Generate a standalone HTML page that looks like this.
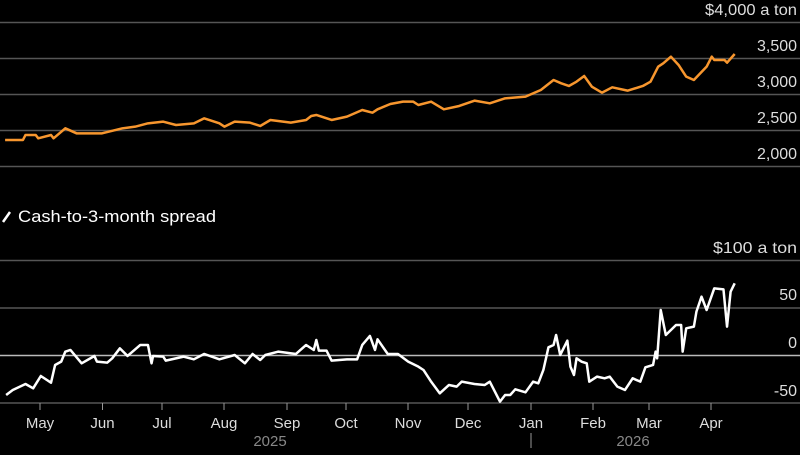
<!DOCTYPE html>
<html><head><meta charset="utf-8"><style>
html,body{margin:0;padding:0;background:#000;}
svg text{font-family:"Liberation Sans",sans-serif;}
</style></head><body>
<svg width="800" height="450" viewBox="0 0 800 450" xmlns="http://www.w3.org/2000/svg">
<rect width="800" height="450" fill="#000"/>
<g stroke="#555" stroke-width="1.5">
<line x1="0" y1="22.5" x2="800" y2="22.5"/><line x1="0" y1="58.5" x2="800" y2="58.5"/>
<line x1="0" y1="94.5" x2="800" y2="94.5"/><line x1="0" y1="130.5" x2="800" y2="130.5"/>
<line x1="0" y1="166.5" x2="800" y2="166.5"/>
<line x1="0" y1="260.5" x2="800" y2="260.5"/><line x1="0" y1="308" x2="800" y2="308"/>
<line x1="0" y1="403" x2="800" y2="403"/>
</g>
<line x1="0" y1="355.5" x2="800" y2="355.5" stroke="#bbb" stroke-width="1.5"/>
<g font-size="16" fill="#ddd" text-anchor="end">
<text x="797" y="15" textLength="92" lengthAdjust="spacingAndGlyphs">$4,000 a ton</text>
<text x="797" y="51" textLength="40" lengthAdjust="spacingAndGlyphs">3,500</text>
<text x="797" y="87" textLength="40" lengthAdjust="spacingAndGlyphs">3,000</text>
<text x="797" y="123" textLength="40" lengthAdjust="spacingAndGlyphs">2,500</text>
<text x="797" y="159" textLength="40" lengthAdjust="spacingAndGlyphs">2,000</text>
<text x="797" y="253" textLength="84" lengthAdjust="spacingAndGlyphs">$100 a ton</text>
<text x="797" y="300">50</text>
<text x="797" y="348">0</text>
<text x="797" y="396">-50</text>
</g>
<line x1="3" y1="222" x2="10" y2="212" stroke="#fff" stroke-width="2.5"/>
<text x="18" y="222" font-size="17" fill="#fff" textLength="198" lengthAdjust="spacingAndGlyphs">Cash-to-3-month spread</text>
<g transform="scale(0.5102,0.3333)">
<polyline fill="none" stroke="#f7962e" stroke-width="2.5" vector-effect="non-scaling-stroke" stroke-linejoin="round" points="10,420 45,420 50,405 70,405 75,415 100,405 105,415 128,385 150,400 200,400 240,385 265,380 290,370 320,365 345,375 380,370 400,355 430,370 440,380 460,365 490,368 510,378 530,360 570,368 600,360 610,348 620,345 650,360 680,350 710,330 730,338 740,328 765,312 790,305 810,305 820,315 845,305 870,328 900,318 930,302 960,310 990,295 1030,290 1060,270 1085,240 1100,250 1115,258 1130,245 1145,228 1160,260 1180,278 1200,262 1230,272 1260,258 1275,245 1290,200 1300,190 1315,170 1330,195 1345,230 1360,240 1385,200 1395,170 1400,180 1420,180 1425,188 1440,162"/>
</g>
<g transform="translate(0,230) scale(0.5102,0.3333)">
<polyline fill="none" stroke="#fff" stroke-width="2.5" vector-effect="non-scaling-stroke" stroke-linejoin="round" points="12,495 25,480 50,462 65,475 80,438 100,458 108,405 120,395 128,365 138,360 160,400 185,378 190,395 210,398 220,385 235,355 250,378 275,345 290,345 297,400 300,378 320,380 325,392 360,380 380,388 400,372 430,388 460,375 480,400 495,372 510,390 520,375 545,365 560,368 580,372 600,345 615,360 620,330 625,362 640,362 650,392 680,388 700,388 710,345 725,318 735,360 740,328 760,372 780,372 800,395 820,410 830,420 845,455 862,490 880,465 895,470 905,455 930,462 950,465 960,455 980,515 990,495 1000,495 1010,478 1030,487 1045,455 1055,460 1065,420 1075,352 1085,345 1090,315 1098,375 1112,332 1118,410 1125,435 1130,385 1140,395 1150,400 1155,455 1170,440 1185,445 1195,440 1210,470 1225,480 1240,445 1255,455 1265,412 1280,405 1285,365 1288,385 1295,240 1305,315 1315,300 1325,285 1335,285 1338,365 1345,295 1360,290 1365,245 1375,200 1385,240 1400,175 1418,178 1425,290 1432,185 1440,160"/>
</g>
<g stroke="#999" stroke-width="1">
<line x1="40" y1="403" x2="40" y2="410"/><line x1="102.5" y1="403" x2="102.5" y2="410"/>
<line x1="162" y1="403" x2="162" y2="410"/><line x1="224" y1="403" x2="224" y2="410"/>
<line x1="287" y1="403" x2="287" y2="410"/><line x1="346" y1="403" x2="346" y2="410"/>
<line x1="408" y1="403" x2="408" y2="410"/><line x1="468" y1="403" x2="468" y2="410"/>
<line x1="531" y1="403" x2="531" y2="410"/><line x1="593" y1="403" x2="593" y2="410"/>
<line x1="649" y1="403" x2="649" y2="410"/><line x1="711" y1="403" x2="711" y2="410"/>
<line x1="531" y1="433" x2="531" y2="448"/>
</g>
<g font-size="15" fill="#ddd" text-anchor="middle">
<text x="40" y="428">May</text><text x="102.5" y="428">Jun</text><text x="162" y="428">Jul</text>
<text x="224" y="428">Aug</text><text x="287" y="428">Sep</text><text x="346" y="428">Oct</text>
<text x="408" y="428">Nov</text><text x="468" y="428">Dec</text><text x="531" y="428">Jan</text>
<text x="593" y="428">Feb</text><text x="649" y="428">Mar</text><text x="711" y="428">Apr</text>
</g>
<g font-size="15" fill="#888" text-anchor="middle">
<text x="270" y="446">2025</text><text x="633" y="446">2026</text>
</g>
</svg>
</body></html>
